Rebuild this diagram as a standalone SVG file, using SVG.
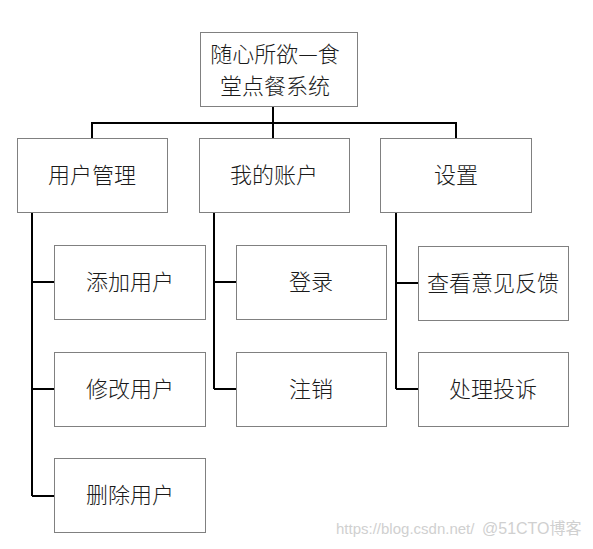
<svg xmlns="http://www.w3.org/2000/svg" width="593" height="549" viewBox="0 0 593 549">
<style>
.box{fill:#fff;stroke:#808080;stroke-width:1}
.t{font-family:"Noto Sans CJK SC","Liberation Serif",serif;font-size:22px;fill:#1a1a1a;text-anchor:middle;font-weight:300}
.c{fill:none;stroke:#000;stroke-width:2}
.wm{font-family:"Liberation Sans","Noto Sans CJK SC",sans-serif;fill:#d0d0d0}
</style>
<rect width="593" height="549" fill="#fff"/>
<g id="connectors">
<path class="c" d="M273 107V123M92 123H456M92 122V138M273 122V138M456 122V138"/>
<path class="c" d="M32 213V496M32 282H54M32 389H54M32 496H54"/>
<path class="c" d="M214 213V389M214 282H236M214 389H236"/>
<path class="c" d="M396 213V389M396 283H418M396 389H418"/>
</g>
<g id="root"><rect class="box" x="200.5" y="32.5" width="157" height="74"/><text class="t" x="275" y="62">随心所欲—食</text><text class="t" x="275" y="94">堂点餐系统</text></g>
<g id="user-mgmt"><rect class="box" x="17.5" y="138.5" width="150" height="74"/><text class="t" x="92" y="183">用户管理</text></g>
<g id="my-account"><rect class="box" x="199.5" y="138.5" width="150" height="74"/><text class="t" x="274" y="183">我的账户</text></g>
<g id="settings"><rect class="box" x="380.5" y="138.5" width="151" height="74"/><text class="t" x="456" y="183">设置</text></g>
<g id="add-user"><rect class="box" x="54.5" y="245.5" width="151" height="74"/><text class="t" x="130" y="290">添加用户</text></g>
<g id="edit-user"><rect class="box" x="54.5" y="352.5" width="151" height="74"/><text class="t" x="130" y="397">修改用户</text></g>
<g id="del-user"><rect class="box" x="54.5" y="458.5" width="151" height="74"/><text class="t" x="130" y="503">删除用户</text></g>
<g id="login"><rect class="box" x="236.5" y="245.5" width="150" height="74"/><text class="t" x="311" y="290">登录</text></g>
<g id="logout"><rect class="box" x="236.5" y="352.5" width="150" height="74"/><text class="t" x="311" y="397">注销</text></g>
<g id="feedback"><rect class="box" x="418.5" y="246.5" width="150" height="74"/><text class="t" x="493" y="291">查看意见反馈</text></g>
<g id="complaint"><rect class="box" x="418.5" y="352.5" width="150" height="74"/><text class="t" x="493" y="397">处理投诉</text></g>
<text class="wm" x="336" y="534" font-size="15">https://blog.csdn.net/</text>
<text class="wm" x="482" y="534" font-size="16" fill="#c8c8c8">@51CTO博客</text>
</svg>
